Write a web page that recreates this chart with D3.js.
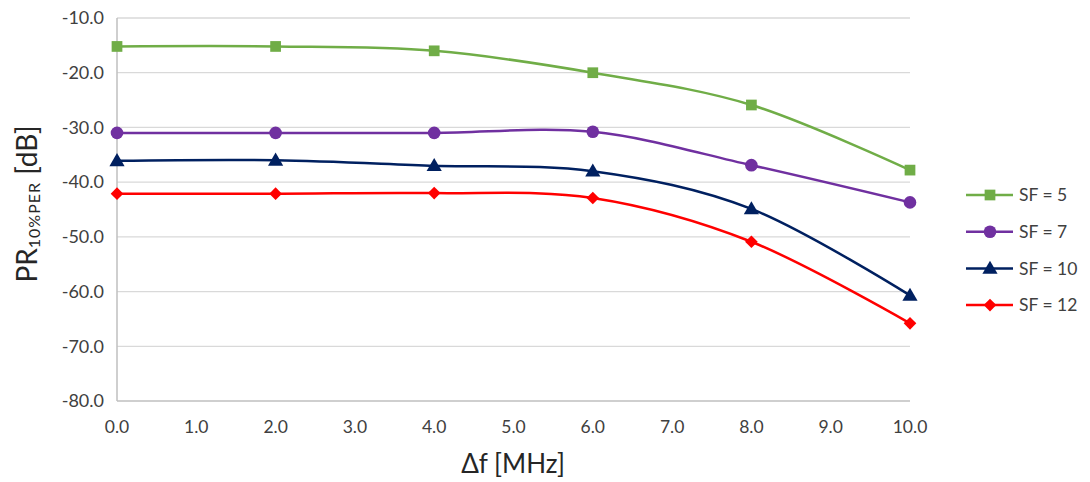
<!DOCTYPE html>
<html><head><meta charset="utf-8">
<script src="https://cdn.jsdelivr.net/npm/d3@7"></script>
<style>body{margin:0;background:#fff}svg{display:block}</style>
</head><body>
<svg id="c" width="1090" height="482"></svg>
<script>
const xValues = [0, 2, 4, 6, 8, 10];
const sf5  = [-15.2, -15.2, -16.0, -20.0, -25.9, -37.8];
const sf7  = [-31.0, -31.0, -31.0, -30.8, -36.9, -43.7];
const sf10 = [-36.1, -36.0, -37.0, -38.0, -44.9, -60.7];
const sf12 = [-42.1, -42.1, -42.0, -42.9, -50.9, -65.8];
const seriesNames = ["SF = 5", "SF = 7", "SF = 10", "SF = 12"];
const xTicks = [0,1,2,3,4,5,6,7,8,9,10];
const yTicks = [-10,-20,-30,-40,-50,-60,-70,-80];

const diamond = {draw(ctx, size){ const r = Math.sqrt(size/2); ctx.moveTo(0,-r); ctx.lineTo(r,0); ctx.lineTo(0,r); ctx.lineTo(-r,0); ctx.closePath(); }};

const series = [
  {name: seriesNames[0], values: sf5,  color: "#70ad47", symbol: d3.symbolSquare, size: 115},
  {name: seriesNames[1], values: sf7,  color: "#7030a0", symbol: d3.symbolCircle, size: 125},
  {name: seriesNames[2], values: sf10, color: "#002060", symbol: d3.symbolTriangle, size: 100},
  {name: seriesNames[3], values: sf12, color: "#ff0000", symbol: diamond, size: 80}
];

const svg = d3.select("#c");
const L = 117, R = 910, T = 18, B = 401;
const x = d3.scaleLinear().domain([0, 10]).range([L, R]);
const y = d3.scaleLinear().domain([-80, -10]).range([B, T]);
const font = "Lato, 'Open Sans', sans-serif";

// grid
svg.append("g").selectAll("line").data(yTicks.filter(d => d !== -80)).join("line")
  .attr("x1", L).attr("x2", R).attr("y1", d => y(d)).attr("y2", d => y(d))
  .attr("stroke", "#d9d9d9").attr("stroke-width", 1.3);

// axes lines
svg.append("line").attr("x1", L).attr("x2", L).attr("y1", T).attr("y2", B)
  .attr("stroke", "#bfbfbf").attr("stroke-width", 1.5);
svg.append("line").attr("x1", L).attr("x2", R).attr("y1", B).attr("y2", B)
  .attr("stroke", "#bfbfbf").attr("stroke-width", 1.5);

// y tick labels
svg.append("g").selectAll("text").data(yTicks).join("text")
  .attr("x", 104).attr("y", d => y(d)).attr("dy", "0.35em")
  .attr("text-anchor", "end").attr("font-family", font).attr("font-size", 18)
  .attr("fill", "#404040").text(d => d3.format(".1f")(d).replace("−", "-"));

// x tick labels
svg.append("g").selectAll("text").data(xTicks).join("text")
  .attr("x", d => x(d)).attr("y", 433)
  .attr("text-anchor", "middle").attr("font-family", font).attr("font-size", 17.5)
  .attr("fill", "#404040").text(d => d3.format(".1f")(d));

// axis titles
svg.append("text").attr("x", 513).attr("y", 473).attr("text-anchor", "middle")
  .attr("font-family", font).attr("font-size", 26).attr("fill", "#262626").text("Δf [MHz]");

const yl = svg.append("text").attr("transform", "translate(37,204) rotate(-90)")
  .attr("text-anchor", "middle").attr("font-family", font).attr("fill", "#262626");
yl.append("tspan").attr("font-size", 28).text("PR");
yl.append("tspan").attr("font-size", 16).attr("dy", 3).attr("letter-spacing", 1).text("10%PER");
yl.append("tspan").attr("font-size", 28).attr("dy", -3).text(" [dB]");

// lines
const line = d3.line().x((d, i) => x(xValues[i])).y(d => y(d)).curve(d3.curveCardinal.tension(0));
series.forEach(s => {
  svg.append("path").attr("d", line(s.values)).attr("fill", "none")
    .attr("stroke", s.color).attr("stroke-width", 2.5);
  svg.append("g").selectAll("path").data(s.values).join("path")
    .attr("transform", (d, i) => `translate(${x(xValues[i])},${y(d) + (s.symbol === d3.symbolTriangle ? 1 : 0)})`)
    .attr("d", d3.symbol(s.symbol, s.size)).attr("fill", s.color);
});

// legend
const lg = svg.append("g");
series.forEach((s, i) => {
  const yy = 195 + i * 36.7;
  lg.append("line").attr("x1", 966).attr("x2", 1013).attr("y1", yy).attr("y2", yy)
    .attr("stroke", s.color).attr("stroke-width", 2.5);
  lg.append("path").attr("transform", `translate(990,${yy + (s.symbol === d3.symbolTriangle ? 1 : 0)})`)
    .attr("d", d3.symbol(s.symbol, s.size)).attr("fill", s.color);
  lg.append("text").attr("x", 1019).attr("y", yy).attr("dy", "0.35em")
    .attr("font-family", font).attr("font-size", 17.5).attr("fill", "#404040").text(s.name);
});
</script>
</body></html>
